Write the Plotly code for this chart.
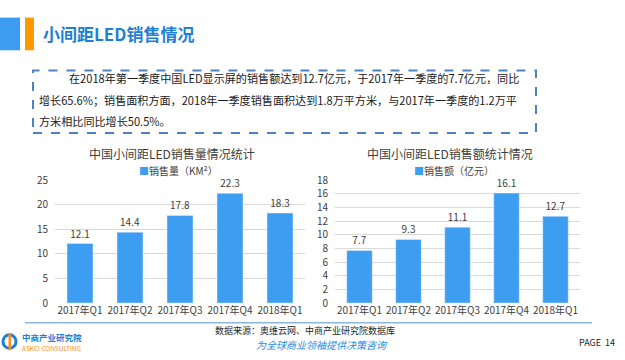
import plotly.graph_objects as go

W, H = 625, 360

categories = ["2017年Q1", "2017年Q2", "2017年Q3", "2017年Q4", "2018年Q1"]
volume = [12.1, 14.4, 17.8, 22.3, 18.3]          # 销售量（KM²）
revenue = [7.7, 9.3, 11.1, 16.1, 12.7]           # 销售额（亿元）
volume_ticks = [0, 5, 10, 15, 20, 25]
revenue_ticks = [0, 2, 4, 6, 8, 10, 12, 14, 16, 18]

BAR = "#3d9df0"
FONT = "Noto Sans CJK SC, Noto Sans, sans-serif"


def px(x):
    return x / W


def py(y):
    return 1 - y / H


fig = go.Figure()
fig.add_trace(go.Bar(
    x=categories, y=volume, xaxis="x", yaxis="y", marker_color=BAR, width=0.52,
    text=[f"{v:.1f}" for v in volume], textposition="outside", cliponaxis=False,
    textfont=dict(size=10, color="#404040"), showlegend=False, hoverinfo="skip"))
fig.add_trace(go.Bar(
    x=categories, y=revenue, xaxis="x2", yaxis="y2", marker_color=BAR, width=0.52,
    text=[f"{v:.1f}" for v in revenue], textposition="outside", cliponaxis=False,
    textfont=dict(size=10, color="#404040"), showlegend=False, hoverinfo="skip"))

axis_common = dict(showline=False, zeroline=False, ticks="", tickfont=dict(size=10, color="#404040"))
fig.update_layout(
    width=W, height=H, margin=dict(l=0, r=0, t=0, b=0),
    paper_bgcolor="white", plot_bgcolor="white",
    font=dict(family=FONT, color="#404040"),
    xaxis=dict(domain=[px(55), px(305)], anchor="y", showgrid=False, **axis_common),
    yaxis=dict(domain=[py(307), py(179)], anchor="x", range=[0, 25], tickvals=volume_ticks,
               showgrid=True, gridcolor="#d9d9d9", gridwidth=1, ticklabelstandoff=6, **axis_common),
    xaxis2=dict(domain=[px(335), px(580)], anchor="y2", showgrid=False, **axis_common),
    yaxis2=dict(domain=[py(307), py(179)], anchor="x2", range=[0, 18], tickvals=revenue_ticks,
                showgrid=True, gridcolor="#d9d9d9", gridwidth=1, ticklabelstandoff=6, **axis_common),
    bargap=0.48,
)

shapes = [
    dict(type="rect", xref="paper", yref="paper", x0=px(0), x1=px(20), y0=py(44), y1=py(10),
         fillcolor="#3b9cf0", line_width=0),
    dict(type="rect", xref="paper", yref="paper", x0=px(25), x1=px(34), y0=py(44), y1=py(10),
         fillcolor="#ff9900", line_width=0),
    dict(type="rect", xref="paper", yref="paper", x0=px(33), x1=px(536), y0=py(130), y1=py(65),
         line=dict(color="#4f81bd", width=2, dash="dash"), fillcolor="rgba(0,0,0,0)"),
    dict(type="line", xref="paper", yref="paper", x0=px(25), x1=px(592), y0=py(327.5), y1=py(327.5),
         line=dict(color="#8eb4e3", width=1.5)),
    # logo icon
    dict(type="circle", xref="paper", yref="paper", x0=px(3), x1=px(16), y0=py(354), y1=py(340),
         line=dict(color="#1f7fd6", width=3), fillcolor="white"),
    dict(type="rect", xref="paper", yref="paper", x0=px(8.5), x1=px(11), y0=py(356), y1=py(338),
         fillcolor="#ff8c1a", line_width=0),
]
fig.update_layout(shapes=shapes)


def ann(x, y, text, size=12, color="#404040", xanchor="left", **kw):
    fig.add_annotation(x=px(x), y=py(y), xref="paper", yref="paper", text=text, showarrow=False,
                       xanchor=xanchor, yanchor="middle", borderpad=0,
                       font=dict(size=size, color=color, family=FONT), **kw)


ann(42, 27, "<b>小间距LED销售情况</b>", size=17, color="#1f7fd6")

lines = [
    (68, 73, "在2018年第一季度中国LED显示屏的销售额达到12.7亿元，于2017年一季度的7.7亿元，同比"),
    (38, 96, "增长65.6%；销售面积方面，2018年一季度销售面积达到1.8万平方米，与2017年一季度的1.2万平"),
    (38, 118, "方米相比同比增长50.5%。"),
]
for x, y, t in lines:
    ann(x, y, t, size=11.1, color="#1a1a1a")

ann(172, 151, "中国小间距LED销售量情况统计", size=12, color="#404040", xanchor="center")
ann(450, 151, "中国小间距LED销售额统计情况", size=12, color="#404040", xanchor="center")
ann(138, 169, f"<span style='color:{BAR}'>■</span>销售量（KM²）", size=10, color="#404040")
ann(413, 169, f"<span style='color:{BAR}'>■</span>销售额（亿元）", size=10, color="#404040")

ann(305, 336, "数据来源：奥维云网、中商产业研究院数据库", size=9, color="#262626", xanchor="center")
ann(322, 350, "<i>为全球商业领袖提供决策咨询</i>", size=10, color="#2a8ae0", xanchor="center")
ann(578, 348, "PAGE  14", size=9, color="#262626", xanchor="left")
ann(21, 342, "<b>中商产业研究院</b>", size=8.5, color="#1f7fd6")
ann(21, 353.5, "ASKCI CONSULTING", size=6.5, color="#ff8c1a")

fig.write_html("out.html", config={"displayModeBar": False},
               post_script="document.body.style.margin='0';document.body.style.overflow='hidden';")
